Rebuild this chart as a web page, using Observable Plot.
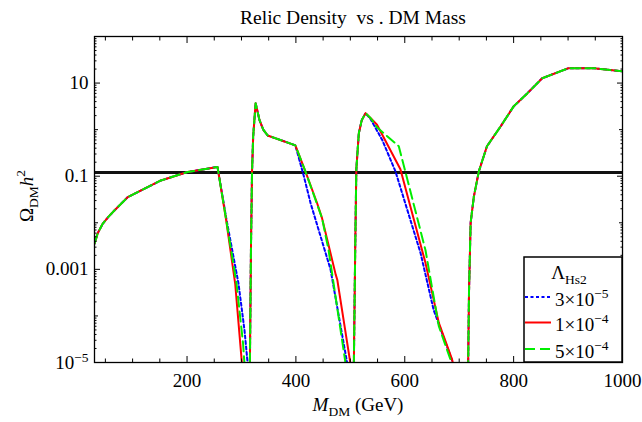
<!DOCTYPE html>
<html>
<head>
<meta charset="utf-8">
<script src="https://cdn.jsdelivr.net/npm/d3@7"></script>
<script src="https://cdn.jsdelivr.net/npm/@observablehq/plot@0.6"></script>
<style>
  body { margin: 0; background: #fff; }
  #chart { width: 642px; height: 422px; }
</style>
</head>
<body>
<div id="chart"></div>
<script>
// ---- Data ----
const titleText = "Relic Density  vs . DM Mass";
const seriesColors = ["#0000ff", "#ff0000", "#00ee00"];
const legendMantissa = ["3", "1", "5"];
const legendExponent = ["\u22125", "\u22124", "\u22124"];

const massBlue = [30,36,45,55,67,91,122,152,201,256,272,294.6,305.6,312,314,315.5,317.5,319.4,321.5,326,333,340,348,399,414.6,427,463.6,494,499,506.5,509,511,515.6,521,528,537,558.6,583,629,653,687,690,703,716.5,718,721,727,736,751,776,800,825,852.5,901,947,1000];
const omegaBlue = [3.55e-3,6.0e-3,9.5e-3,1.32e-2,1.86e-2,3.55e-2,5.4e-2,8.1e-2,0.123,0.158,1.26e-2,4.9e-4,4.9e-5,7.9e-6,1e-8,1e-5,3.2e-3,0.126,0.71,3.7,1.62,1.0,0.75,0.46,0.1,0.0263,1e-3,1e-5,1e-8,1e-5,3e-3,0.14,0.84,1.6,2.26,1.7,0.6,0.126,2.24e-3,1.35e-4,1.1e-5,8e-6,1e-8,1e-5,3.2e-4,0.01,0.037,0.126,0.44,1.17,3.16,6.0,12.7,20.9,20.9,17.8];

const massRed = [30,36,45,55,67,91,122,152,201,256,272,288.5,300,303,309,315.5,317.5,319.4,321.5,326,333,340,348,399,417.6,439,448,473,476,500,503,506.5,509,511,515.6,521,528,537,549,592,638,662.6,687,690,703,716.5,718,721,727,736,751,776,800,825,852.5,901,947,1000];
const omegaRed = [3.55e-3,6.0e-3,9.5e-3,1.32e-2,1.86e-2,3.55e-2,5.4e-2,8.1e-2,0.123,0.158,1.12e-2,4.9e-4,1.26e-5,5e-6,1e-8,1e-5,3.2e-3,0.126,0.71,3.7,1.62,1.0,0.75,0.46,0.126,0.0263,0.0126,7.8e-4,6.0e-4,9.8e-6,1e-8,1e-5,3e-3,0.14,0.84,1.6,2.26,1.78,1.27,0.141,1.38e-3,7.1e-5,1.15e-5,8e-6,1e-8,1e-5,3.2e-4,0.01,0.037,0.126,0.44,1.17,3.16,6.0,12.7,20.9,20.9,17.8];

const massGreen = [30,36,45,55,67,91,122,152,201,256,272,291,303,306.5,310,315.5,317.5,319.4,321.5,326,333,340,348,399,417.6,448,460,482,491,497,506.5,509,511,515.6,521,528,537,549,589,601,638,662.6,684,687,701,716.5,718,721,727,736,751,776,800,825,852.5,901,947,1000];
const omegaGreen = [3.55e-3,6.0e-3,9.5e-3,1.32e-2,1.86e-2,3.55e-2,5.4e-2,8.1e-2,0.123,0.158,1.15e-2,4.9e-4,2.5e-5,6.3e-6,1e-8,1e-5,3.2e-3,0.126,0.71,3.7,1.62,1.0,0.75,0.46,0.126,0.0126,2.6e-3,5e-5,1e-5,1e-8,1e-5,3e-3,0.14,0.84,1.6,2.26,1.78,1.12,0.44,0.126,2.6e-3,6e-5,1.15e-5,8e-6,1e-8,1e-5,3.2e-4,0.01,0.037,0.126,0.44,1.17,3.16,6.0,12.7,20.9,20.9,17.8];

const relicTarget = 0.12;

const xMajor = [200, 400, 600, 800, 1000];
const xMinor = [50,100,150,250,300,350,450,500,550,650,700,750,850,900,950];
const yMajor = [1e-5, 1e-3, 0.1, 10];
const yMajorLabels = ["10^-5", "0.001", "0.1", "10"];
const yDecades = [1e-4, 1e-2, 1, 100];
const yMinor = d3.range(-5, 2).flatMap(k => d3.range(2, 10).map(m => m * Math.pow(10, k)));

// ---- Build tables ----
const toRows = (ms, os) => ms.map((m, i) => ({m, omega: os[i]}));
const blueData = toRows(massBlue, omegaBlue);
const redData = toRows(massRed, omegaRed);
const greenData = toRows(massGreen, omegaGreen);

const blank = () => "";
const serif = "'Liberation Serif','Times New Roman',serif";

const chart = Plot.plot({
  width: 642,
  height: 422,
  marginLeft: 94,
  marginRight: 20,
  marginTop: 36,
  marginBottom: 60,
  style: {fontFamily: serif, fontSize: "19px", background: "white", color: "black"},
  x: {domain: [30, 1000]},
  y: {type: "log", domain: [1e-5, 100]},
  marks: [
    Plot.ruleY([relicTarget], {stroke: "#111", strokeWidth: 3}),
    Plot.line(blueData, {x: "m", y: "omega", stroke: seriesColors[0], strokeWidth: 2, strokeDasharray: "3,2.5", clip: true}),
    Plot.line(redData, {x: "m", y: "omega", stroke: seriesColors[1], strokeWidth: 2, clip: true}),
    Plot.line(greenData, {x: "m", y: "omega", stroke: seriesColors[2], strokeWidth: 2, strokeDasharray: "10,5", clip: true}),
    Plot.frame({stroke: "black", strokeWidth: 1.3}),
    Plot.axisX({anchor: "bottom", ticks: xMajor, tickSize: -6, tickPadding: 17, tickFormat: d => String(d), label: null}),
    Plot.axisX({anchor: "bottom", ticks: xMinor, tickSize: -3.5, tickFormat: blank, label: null}),
    Plot.axisX({anchor: "top", ticks: xMajor, tickSize: -6, tickFormat: blank, label: null}),
    Plot.axisX({anchor: "top", ticks: xMinor, tickSize: -3.5, tickFormat: blank, label: null}),
    Plot.axisY({anchor: "left", ticks: yMajor, tickSize: -6, tickPadding: 12, tickFormat: d => yMajorLabels[yMajor.indexOf(d)], label: null}),
    Plot.axisY({anchor: "left", ticks: yDecades, tickSize: -4, tickFormat: blank, label: null}),
    Plot.axisY({anchor: "left", ticks: yMinor, tickSize: -2.5, tickFormat: blank, label: null}),
    Plot.axisY({anchor: "right", ticks: yMajor, tickSize: -6, tickFormat: blank, label: null}),
    Plot.axisY({anchor: "right", ticks: yDecades, tickSize: -4, tickFormat: blank, label: null}),
    Plot.axisY({anchor: "right", ticks: yMinor, tickSize: -2.5, tickFormat: blank, label: null})
  ]
});

document.getElementById("chart").appendChild(chart);
const svg = d3.select(chart);

// superscripted 10^-5 tick label
svg.selectAll("text").each(function() {
  const t = d3.select(this);
  if (t.text() === "10^-5") {
    t.text("");
    t.append("tspan").text("10");
    t.append("tspan").attr("font-size", "13.5px").attr("dy", "-0.5em").text("\u22125");
  }
});

// title
svg.append("text")
  .attr("x", 353).attr("y", 24)
  .attr("text-anchor", "middle")
  .attr("font-size", "19.5px")
  .attr("font-family", serif)
  .style("white-space", "pre")
  .attr("xml:space", "preserve")
  .text(titleText);

// x label
const xl = svg.append("text")
  .attr("x", 358).attr("y", 411)
  .attr("text-anchor", "middle")
  .attr("font-size", "19px").attr("font-family", serif);
xl.append("tspan").attr("font-style", "italic").text("M");
xl.append("tspan").attr("font-size", "13.5px").attr("dy", "5").text("DM");
xl.append("tspan").attr("dy", "-5").text(" (GeV)");

// y label
const yl = svg.append("text")
  .attr("transform", "translate(33,196) rotate(-90)")
  .attr("text-anchor", "middle")
  .attr("font-size", "19px").attr("font-family", serif);
yl.append("tspan").text("\u03A9");
yl.append("tspan").attr("font-size", "13.5px").attr("dy", "5").text("DM");
yl.append("tspan").attr("font-style", "italic").attr("dy", "-5").text("h");
yl.append("tspan").attr("font-size", "13.5px").attr("dy", "-8").text("2");

// legend
const lg = svg.append("g").attr("font-family", serif);
lg.append("rect").attr("x", 524).attr("y", 257).attr("width", 98).attr("height", 105)
  .attr("fill", "white").attr("stroke", "black").attr("stroke-width", 1.5);
const lt = lg.append("text").attr("x", 569).attr("y", 278.5).attr("text-anchor", "middle").attr("font-size", "19px");
lt.append("tspan").text("\u039B");
lt.append("tspan").attr("font-size", "13.5px").attr("dy", "5").text("Hs2");
const dashes = ["3,2.5", null, "10,5"];
const rowY = [297, 322.5, 349];
legendMantissa.forEach((mant, i) => {
  lg.append("line").attr("x1", 525).attr("x2", 551).attr("y1", rowY[i]).attr("y2", rowY[i])
    .attr("stroke", seriesColors[i]).attr("stroke-width", 2)
    .attr("stroke-dasharray", dashes[i]);
  const tx = lg.append("text").attr("x", 555).attr("y", rowY[i] + 8.5)
    .attr("text-anchor", "start").attr("font-size", "19px");
  tx.append("tspan").text(mant + "\u00D710");
  tx.append("tspan").attr("font-size", "13.5px").attr("dy", "-8").text(legendExponent[i]);
});
</script>
</body>
</html>
